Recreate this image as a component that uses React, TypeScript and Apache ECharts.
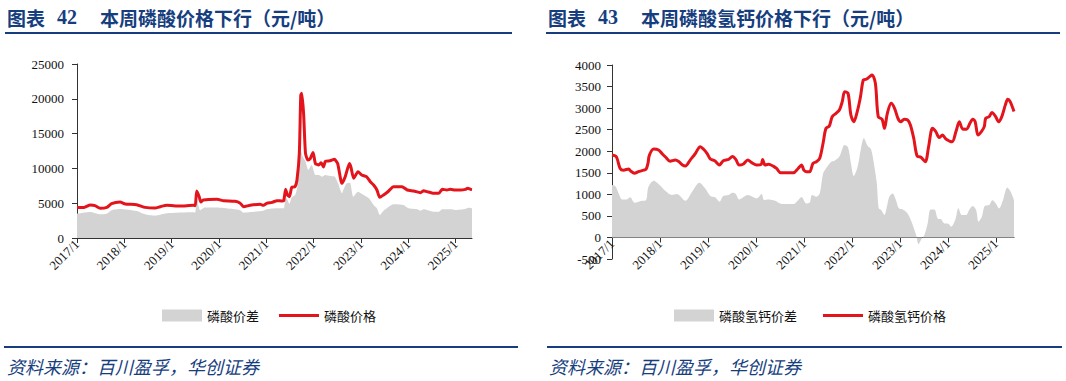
import React, { useEffect, useRef } from "react";
import * as echarts from "echarts";

// ---- Chart 42: phosphoric acid (磷酸), decimal-year dates ----
const acidPriceDates = [2017.0, 2017.15, 2017.28, 2017.38, 2017.49, 2017.63, 2017.73, 2017.91, 2018.02, 2018.26, 2018.44, 2018.65, 2018.76, 2018.9, 2019.18, 2019.46, 2019.5, 2019.53, 2019.58, 2019.62, 2019.67, 2019.96, 2020.1, 2020.34, 2020.45, 2020.52, 2020.66, 2020.87, 2020.94, 2021.01, 2021.12, 2021.23, 2021.33, 2021.37, 2021.41, 2021.45, 2021.49, 2021.54, 2021.61, 2021.65, 2021.7, 2021.73, 2021.75, 2021.79, 2021.83, 2021.88, 2021.93, 2021.99, 2022.04, 2022.11, 2022.16, 2022.21, 2022.25, 2022.35, 2022.44, 2022.51, 2022.6, 2022.67, 2022.76, 2022.79, 2022.85, 2022.94, 2023.02, 2023.12, 2023.2, 2023.27, 2023.34, 2023.4, 2023.48, 2023.59, 2023.69, 2023.87, 2023.98, 2024.12, 2024.26, 2024.33, 2024.4, 2024.54, 2024.65, 2024.72, 2024.82, 2024.89, 2025.0, 2025.11, 2025.21, 2025.26, 2025.32, 2025.35];
const acidPrice = [4400, 4400, 4740, 4650, 4260, 4400, 4930, 5170, 4880, 4790, 4400, 4300, 4500, 4700, 4600, 4700, 4650, 6750, 6000, 5170, 5460, 5550, 5360, 5270, 5000, 4500, 4700, 4850, 4700, 4980, 5120, 5360, 5320, 5360, 6990, 6180, 5940, 7280, 7380, 8330, 12200, 20500, 20800, 17900, 12200, 11200, 11400, 12300, 10700, 10500, 10800, 10200, 11000, 11100, 11300, 10700, 7850, 8810, 10700, 10200, 8570, 9530, 9050, 8810, 8090, 7610, 6900, 5840, 6180, 6750, 7380, 7380, 6900, 6750, 6500, 6800, 6660, 6420, 6420, 6990, 6900, 6990, 6900, 6900, 6990, 7140, 6990, 6950];

const acidSpreadDates = [2017.0, 2017.28, 2017.49, 2017.63, 2017.73, 2017.91, 2018.26, 2018.44, 2018.65, 2018.9, 2019.46, 2019.5, 2019.53, 2019.6, 2019.7, 2019.96, 2020.25, 2020.45, 2020.52, 2020.94, 2021.01, 2021.23, 2021.37, 2021.41, 2021.45, 2021.49, 2021.54, 2021.61, 2021.66, 2021.7, 2021.73, 2021.77, 2021.83, 2021.89, 2021.96, 2022.04, 2022.11, 2022.18, 2022.25, 2022.35, 2022.45, 2022.52, 2022.6, 2022.63, 2022.7, 2022.77, 2022.84, 2022.94, 2023.06, 2023.17, 2023.27, 2023.34, 2023.4, 2023.48, 2023.59, 2023.69, 2023.9, 2024.01, 2024.19, 2024.26, 2024.33, 2024.4, 2024.54, 2024.65, 2024.72, 2024.89, 2025.0, 2025.18, 2025.28, 2025.35];
const acidSpread = [3500, 3740, 3400, 3500, 4000, 4170, 3880, 3400, 3200, 3540, 3690, 3650, 5700, 4000, 4400, 4400, 4200, 4000, 3640, 3930, 4120, 4260, 4260, 5840, 5460, 4890, 5840, 6180, 7380, 10700, 12600, 11700, 11000, 9770, 10500, 9050, 9050, 8810, 9050, 8910, 8810, 7850, 6420, 6900, 7850, 7950, 5940, 6660, 6180, 5700, 4740, 4260, 3300, 3930, 4500, 4840, 4740, 4260, 4120, 3930, 4120, 4020, 3780, 3780, 4120, 4120, 4020, 4120, 4360, 4260];

// ---- Chart 43: dicalcium phosphate (磷酸氢钙) ----
const dcpPriceDates = [2017.0, 2017.09, 2017.17, 2017.24, 2017.35, 2017.38, 2017.47, 2017.55, 2017.66, 2017.71, 2017.75, 2017.78, 2017.87, 2017.97, 2018.05, 2018.12, 2018.21, 2018.32, 2018.39, 2018.47, 2018.53, 2018.63, 2018.73, 2018.84, 2018.91, 2018.98, 2019.05, 2019.14, 2019.24, 2019.32, 2019.43, 2019.51, 2019.58, 2019.65, 2019.74, 2019.83, 2019.91, 2020.02, 2020.11, 2020.14, 2020.19, 2020.26, 2020.36, 2020.43, 2020.52, 2020.78, 2020.88, 2020.95, 2021.0, 2021.05, 2021.12, 2021.19, 2021.26, 2021.33, 2021.4, 2021.46, 2021.53, 2021.59, 2021.67, 2021.74, 2021.8, 2021.85, 2021.92, 2021.98, 2022.04, 2022.12, 2022.18, 2022.24, 2022.3, 2022.37, 2022.42, 2022.49, 2022.55, 2022.63, 2022.68, 2022.74, 2022.82, 2022.89, 2022.96, 2023.02, 2023.09, 2023.16, 2023.22, 2023.29, 2023.36, 2023.44, 2023.53, 2023.6, 2023.68, 2023.75, 2023.82, 2023.89, 2023.96, 2024.09, 2024.17, 2024.24, 2024.31, 2024.39, 2024.46, 2024.52, 2024.57, 2024.63, 2024.7, 2024.76, 2024.79, 2024.86, 2024.92, 2024.99, 2025.06, 2025.13, 2025.2, 2025.25, 2025.3, 2025.38];
const dcpPrice = [1910, 1870, 1600, 1560, 1590, 1550, 1490, 1525, 1560, 1580, 1720, 1910, 2050, 2030, 1935, 1860, 1770, 1795, 1760, 1680, 1655, 1795, 1935, 2105, 2045, 1950, 1820, 1780, 1680, 1780, 1810, 1875, 1810, 1680, 1705, 1795, 1735, 1680, 1695, 1810, 1680, 1695, 1655, 1600, 1500, 1500, 1600, 1680, 1560, 1525, 1525, 1720, 1755, 1835, 2185, 2530, 2585, 2800, 2880, 2955, 3150, 3380, 3345, 2840, 2685, 2955, 3265, 3655, 3670, 3730, 3770, 3575, 2800, 2740, 2530, 2880, 3110, 2995, 2765, 2685, 2740, 2725, 2610, 2300, 1890, 1860, 1755, 2105, 2530, 2455, 2320, 2375, 2285, 2220, 2455, 2685, 2515, 2510, 2645, 2740, 2685, 2375, 2455, 2570, 2765, 2800, 2900, 2815, 2685, 2815, 3075, 3205, 3150, 2920];

const dcpSpreadDates = [2017.0, 2017.07, 2017.14, 2017.21, 2017.31, 2017.38, 2017.47, 2017.62, 2017.71, 2017.76, 2017.87, 2017.97, 2018.11, 2018.25, 2018.35, 2018.53, 2018.67, 2018.82, 2018.94, 2019.05, 2019.15, 2019.24, 2019.32, 2019.43, 2019.51, 2019.58, 2019.65, 2019.83, 2020.02, 2020.12, 2020.17, 2020.26, 2020.4, 2020.54, 2020.78, 2020.88, 2020.95, 2021.05, 2021.12, 2021.17, 2021.26, 2021.33, 2021.4, 2021.46, 2021.57, 2021.64, 2021.74, 2021.85, 2021.92, 2021.98, 2022.04, 2022.12, 2022.19, 2022.25, 2022.33, 2022.4, 2022.47, 2022.52, 2022.56, 2022.61, 2022.68, 2022.73, 2022.78, 2022.85, 2022.92, 2022.98, 2023.06, 2023.13, 2023.2, 2023.27, 2023.34, 2023.39, 2023.44, 2023.51, 2023.58, 2023.64, 2023.72, 2023.79, 2023.86, 2023.93, 2024.0, 2024.07, 2024.16, 2024.22, 2024.29, 2024.38, 2024.45, 2024.52, 2024.59, 2024.64, 2024.71, 2024.77, 2024.86, 2024.93, 2025.0, 2025.07, 2025.15, 2025.24, 2025.31, 2025.38];
const dcpSpread = [1215, 1190, 1020, 880, 880, 930, 805, 850, 865, 1175, 1315, 1240, 1085, 985, 1005, 850, 1060, 1270, 1140, 960, 930, 830, 960, 985, 1035, 1005, 880, 985, 905, 1005, 865, 880, 850, 775, 775, 865, 940, 790, 805, 985, 945, 1020, 1485, 1600, 1755, 1780, 1875, 2145, 2090, 1720, 1425, 1640, 2065, 2300, 2120, 2045, 1640, 1255, 675, 635, 520, 710, 945, 1020, 865, 675, 650, 595, 480, 285, 55, -155, -60, 55, 325, 650, 650, 440, 420, 325, 325, 250, 420, 675, 520, 520, 650, 730, 635, 365, 480, 730, 750, 865, 790, 675, 865, 1160, 1060, 865];

const yearTicks = [2017, 2018, 2019, 2020, 2021, 2022, 2023, 2024, 2025];

const NAVY = "#163E7E";
const RED = "#E3141C";
const GRAY = "#D3D3D3";
const SERIF = "'Liberation Serif', 'Times New Roman', serif";
const CJK = "'Noto Sans CJK SC', sans-serif";
const LINE_ICON = "path://M0,0H40V3H0Z";

function pairs(xs: number[], ys: number[]) {
  return xs.map((x, i) => [x, ys[i]]);
}

// offset moves the x axis up to the y = 0 line when the y range goes below zero
function xAxisFor(gridIndex: number, max: number, offset: number) {
  return {
    type: "value",
    gridIndex,
    position: "bottom",
    offset,
    min: 2017,
    max,
    interval: 1,
    splitLine: { show: false },
    axisLine: { show: true, onZero: false, lineStyle: { color: "#333", width: 1 } },
    axisTick: { show: true, length: 5, inside: false, lineStyle: { color: "#333" }, customValues: yearTicks },
    axisLabel: {
      show: true,
      rotate: 45,
      margin: 4,
      fontFamily: SERIF,
      fontSize: 13,
      color: "#111",
      hideOverlap: false,
      customValues: yearTicks,
      formatter: (v: number) => (Math.abs(v - Math.round(v)) < 1e-6 ? `${Math.round(v)}/1` : ""),
    },
  };
}

function yAxisFor(gridIndex: number, min: number, max: number, interval: number, margin: number) {
  return {
    type: "value",
    gridIndex,
    min,
    max,
    interval,
    splitLine: { show: false },
    axisLine: { show: true, onZero: false, lineStyle: { color: "#333", width: 1 } },
    axisTick: { show: true, length: 5, lineStyle: { color: "#333" } },
    axisLabel: { margin, fontFamily: SERIF, fontSize: 13, color: "#111", formatter: (v: number) => String(v) },
  };
}

export default function App() {
  const ref = useRef<HTMLDivElement>(null);
  useEffect(() => {
    if (!ref.current) return;
    const chart = echarts.init(ref.current, null, { renderer: "svg" });
    const titleText = (x: number, text: string, font: string, size: number) => ({
      type: "text",
      x,
      y: 17,
      style: { text, fill: NAVY, font: `bold ${size}px ${font}`, verticalAlign: "middle" },
    });
    const rule = (x: number, y: number, w: number) => ({
      type: "rect",
      shape: { x, y, width: w, height: 2 },
      style: { fill: NAVY },
    });
    const source = (x: number) => ({
      type: "text",
      x,
      y: 366,
      style: {
        text: "资料来源：百川盈孚，华创证券",
        fill: NAVY,
        font: `italic 18px ${CJK}`,
        verticalAlign: "middle",
      },
    });
    const rightMin = -500;
    const rightMax = 4000;
    const rightH = 194;
    const rightOffset = -(rightH * (0 - rightMin)) / (rightMax - rightMin);
    chart.setOption({
      animation: false,
      backgroundColor: "#fff",
      textStyle: { fontFamily: SERIF },
      graphic: [
        titleText(7, "图表", CJK, 19),
        titleText(57, "42", SERIF, 20),
        titleText(100, "本周磷酸价格下行（元/吨）", CJK, 19),
        titleText(548, "图表", CJK, 19),
        titleText(598, "43", SERIF, 20),
        titleText(641, "本周磷酸氢钙价格下行（元/吨）", CJK, 19),
        rule(5, 32, 507),
        rule(546, 32, 514),
        rule(4, 346, 514),
        rule(547, 346, 515),
        source(7),
        source(549),
      ],
      legend: [
        {
          left: 157,
          top: 304,
          itemWidth: 40,
          itemHeight: 12,
          itemGap: 20,
          textStyle: { fontFamily: CJK, fontSize: 13, color: "#111" },
          data: [{ name: "磷酸价差", icon: "rect" }, { name: "磷酸价格", icon: LINE_ICON }],
        },
        {
          left: 669,
          top: 304,
          itemWidth: 40,
          itemHeight: 12,
          itemGap: 26,
          textStyle: { fontFamily: CJK, fontSize: 13, color: "#111" },
          data: [{ name: "磷酸氢钙价差", icon: "rect" }, { name: "磷酸氢钙价格", icon: LINE_ICON }],
        },
      ],
      grid: [
        { left: 77, top: 64, width: 395, height: 174 },
        { left: 612, top: 65, width: 402, height: rightH },
      ],
      xAxis: [xAxisFor(0, 2025.35, 0), xAxisFor(1, 2025.38, rightOffset)],
      yAxis: [yAxisFor(0, 0, 25000, 5000, 13), yAxisFor(1, rightMin, rightMax, 500, 11)],
      series: [
        {
          name: "磷酸价差",
          type: "line",
          xAxisIndex: 0,
          yAxisIndex: 0,
          data: pairs(acidSpreadDates, acidSpread),
          symbol: "none",
          smooth: 0.2,
          itemStyle: { color: GRAY },
          lineStyle: { width: 0, color: GRAY },
          areaStyle: { color: GRAY, opacity: 1 },
          z: 1,
        },
        {
          name: "磷酸价格",
          type: "line",
          xAxisIndex: 0,
          yAxisIndex: 0,
          data: pairs(acidPriceDates, acidPrice),
          symbol: "none",
          smooth: 0.2,
          itemStyle: { color: RED },
          lineStyle: { width: 3, color: RED },
          z: 3,
        },
        {
          name: "磷酸氢钙价差",
          type: "line",
          xAxisIndex: 1,
          yAxisIndex: 1,
          data: pairs(dcpSpreadDates, dcpSpread),
          symbol: "none",
          smooth: 0.3,
          itemStyle: { color: GRAY },
          lineStyle: { width: 0, color: GRAY },
          areaStyle: { color: GRAY, opacity: 1 },
          z: 1,
        },
        {
          name: "磷酸氢钙价格",
          type: "line",
          xAxisIndex: 1,
          yAxisIndex: 1,
          data: pairs(dcpPriceDates, dcpPrice),
          symbol: "none",
          smooth: 0.3,
          itemStyle: { color: RED },
          lineStyle: { width: 3, color: RED },
          z: 3,
        },
      ],
    });
    return () => chart.dispose();
  }, []);
  return (
    <div
      ref={ref}
      style={{ position: "absolute", left: 0, top: 0, width: 1066, height: 381, background: "#fff" }}
    />
  );
}
